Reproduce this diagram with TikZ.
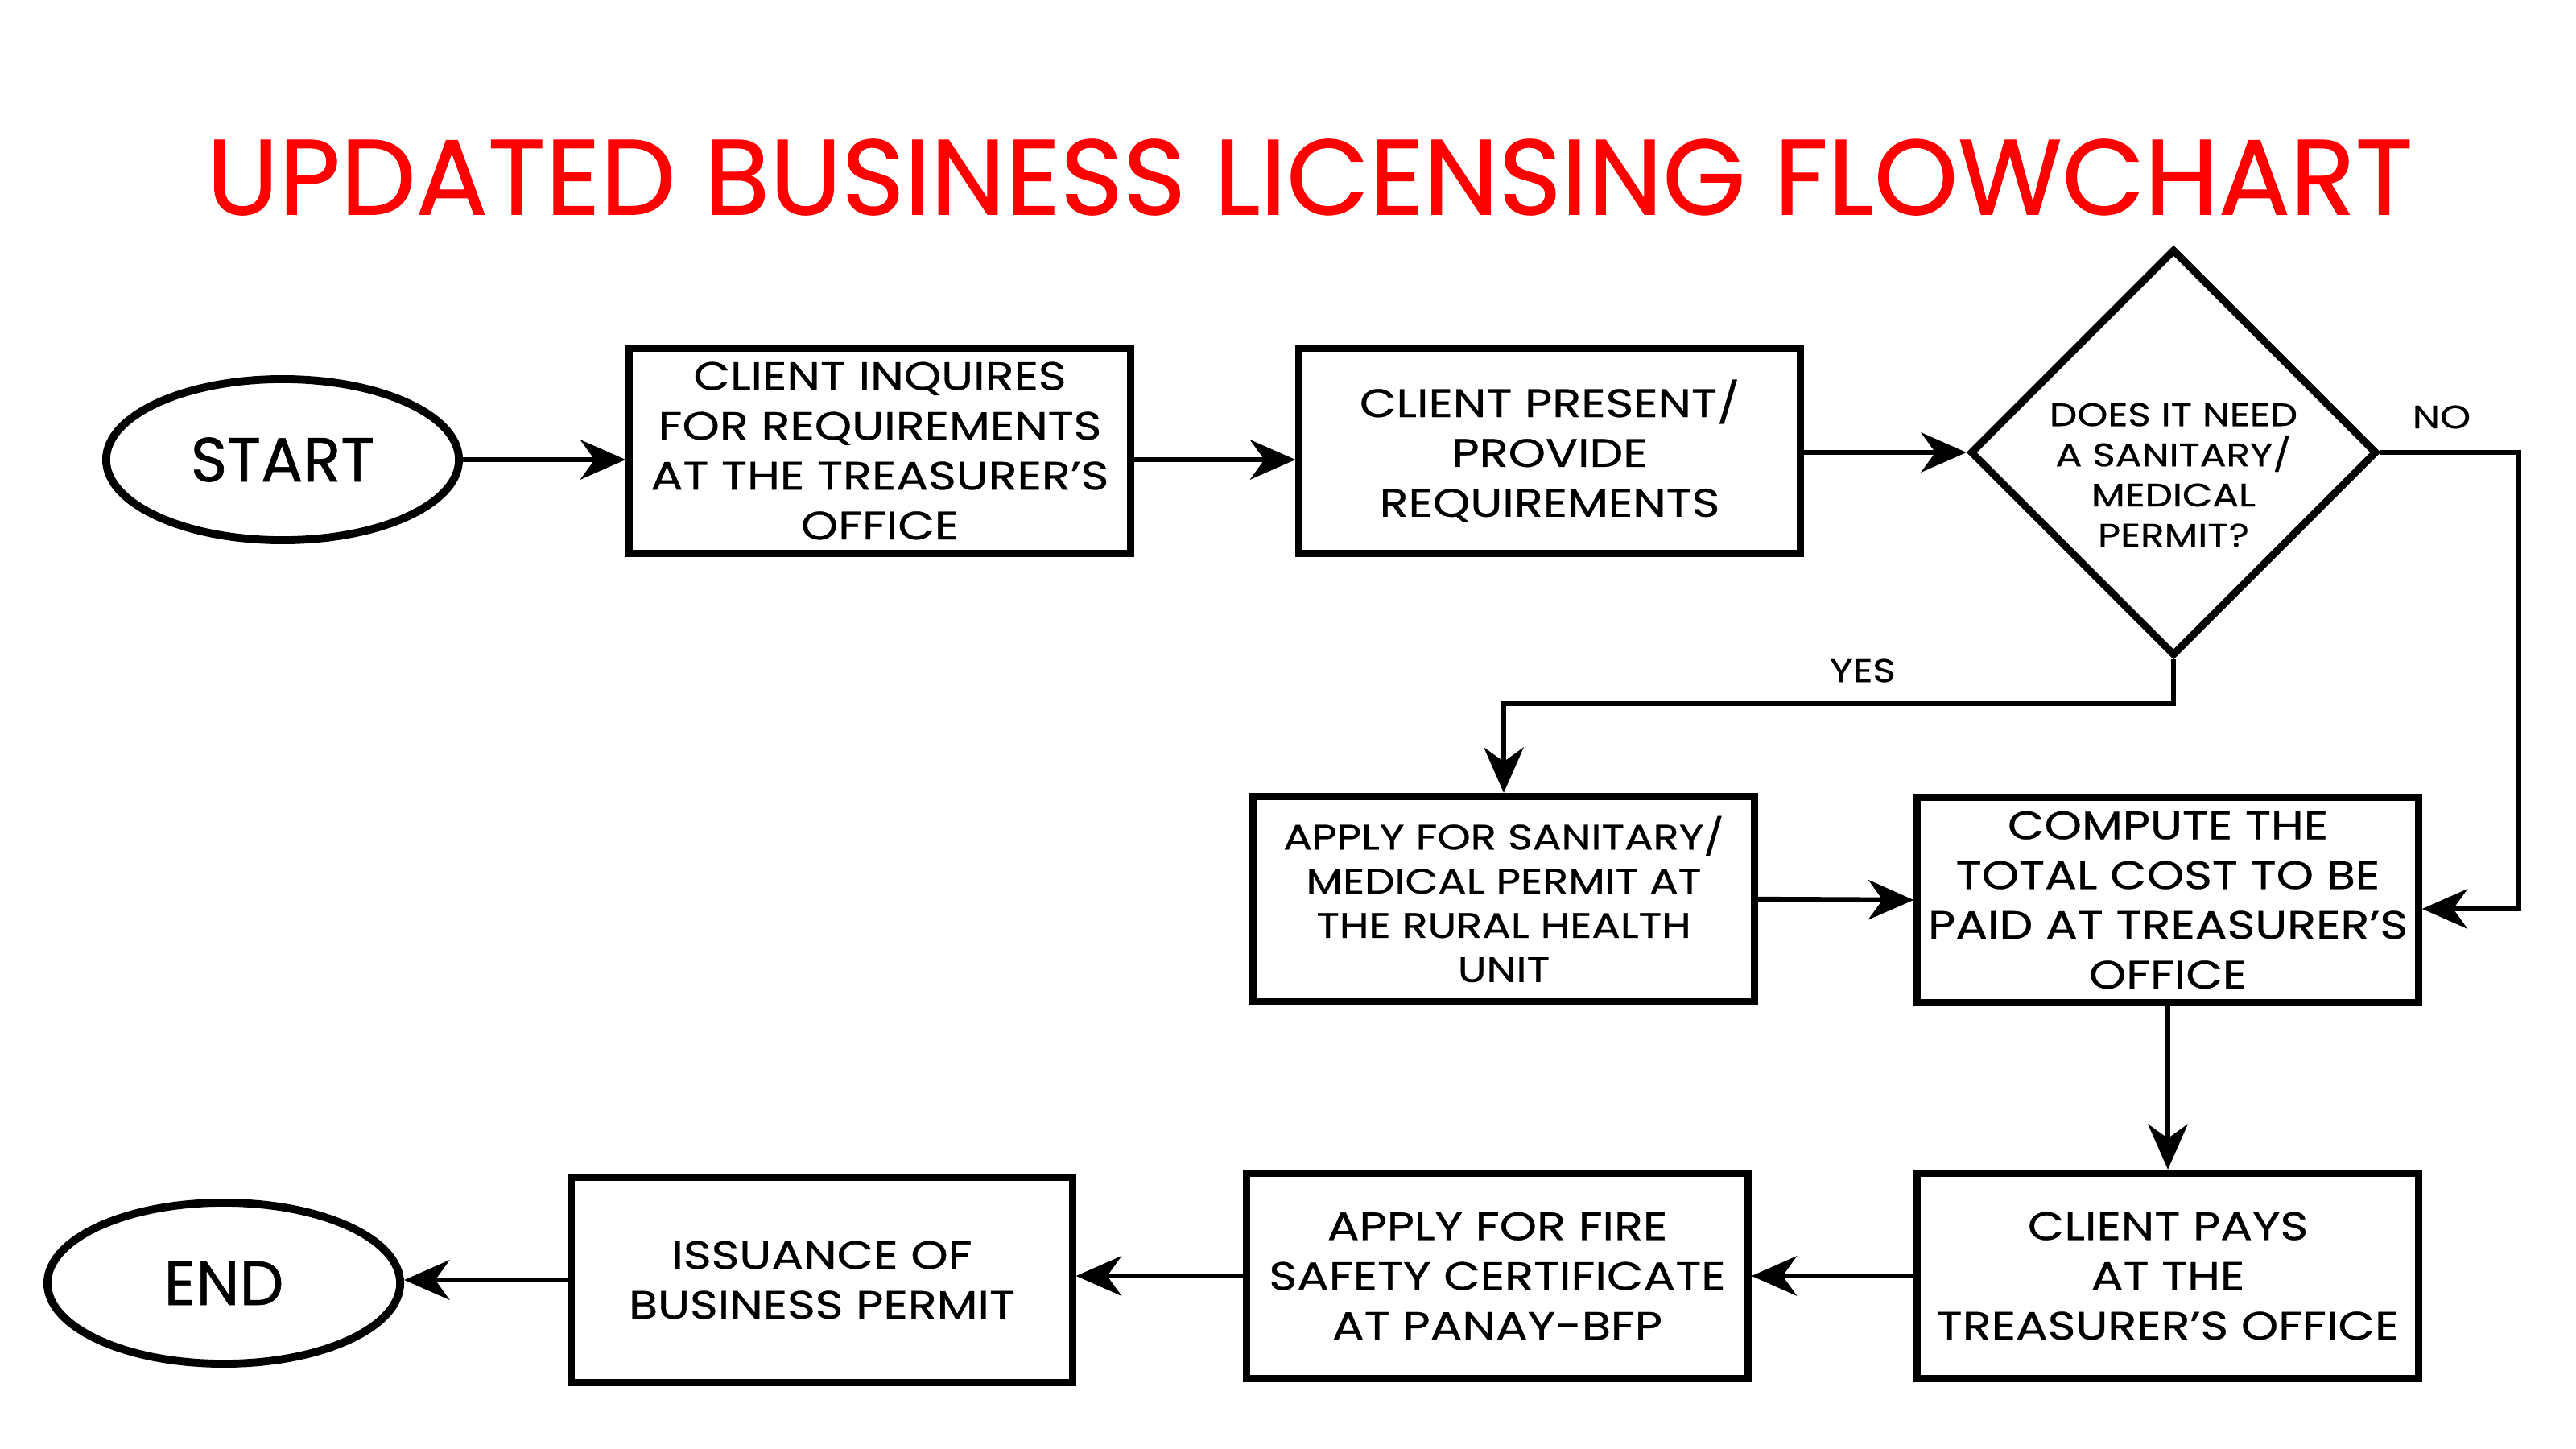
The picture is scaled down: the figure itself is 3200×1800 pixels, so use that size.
\documentclass[tikz,border=0pt]{standalone}
\usepackage{fontspec}
\setmainfont{Poppins}
\newfontfamily\boxfont{Poppins}[FakeStretch=1.2, FakeBold=0.6]
\newfontfamily\titlefont{Poppins}[FakeBold=0.8]
\usetikzlibrary{shapes.geometric,arrows.meta,calc}
\tikzset{
  box/.style={draw, line width=2.6pt, minimum width=6.22cm, minimum height=2.55cm, align=center, inner sep=0pt, font=\boxfont\fontsize{14}{17.6}\selectfont},
  term/.style={draw, ellipse, line width=2.8pt, minimum width=4.38cm, minimum height=2.0cm, inner sep=0pt, font=\titlefont\fontsize{22}{27}\selectfont},
  dia/.style={draw, diamond, line width=2.6pt, minimum width=5.05cm, minimum height=5.05cm, inner sep=0pt},
  diatext/.style={align=center, inner sep=0pt, font=\boxfont\fontsize{11.5}{14.2}\selectfont},
  arr/.style={line width=1.8pt, -{Stealth[length=16pt,width=14pt,inset=5pt]}},
  lbl/.style={font=\boxfont\fontsize{11.5}{14}\selectfont},
}
\begin{document}
\begin{tikzpicture}[x=0.01cm,y=-0.01cm]
\fill[white] (0,0) rectangle (3200,1800);
\useasboundingbox (0,0) rectangle (3200,1800);

\node[font=\titlefont\fontsize{37.7}{44}\selectfont, text={rgb,255:red,255;green,0;blue,0}] (title) at (1627,220) {UPDATED BUSINESS LICENSING FLOWCHART};

\node[term] (start) at (351,571) {START};
\node[box] (b1) at (1093,560) {CLIENT INQUIRES\\FOR REQUIREMENTS\\AT THE TREASURER’S\\OFFICE};
\node[box] (b2) at (1925,560) {CLIENT PRESENT/\\PROVIDE\\REQUIREMENTS};
\node[dia] (dia) at (2700,562) {};
\node[diatext] (diat) at (2700,590) {DOES IT NEED\\A SANITARY/\\MEDICAL\\PERMIT?};
\node[box, font=\boxfont\fontsize{12.5}{15.6}\selectfont] (app) at (1868,1117) {APPLY FOR SANITARY/\\MEDICAL PERMIT AT\\THE RURAL HEALTH\\UNIT};
\node[box] (cmp) at (2693,1118) {COMPUTE THE\\TOTAL COST TO BE\\PAID AT TREASURER’S\\OFFICE};
\node[box] (pay) at (2693,1585) {CLIENT PAYS\\AT THE\\TREASURER’S OFFICE};
\node[box] (fire) at (1860,1585) {APPLY FOR FIRE\\SAFETY CERTIFICATE\\AT PANAY-BFP};
\node[box] (iss) at (1021,1590) {ISSUANCE OF\\BUSINESS PERMIT};
\node[term] (end) at (278,1594) {END};

\node[lbl] (yes) at (2314,833) {YES};
\node[lbl] (no) at (3033,518) {NO};

\coordinate (noc) at (3129,1129);
\coordinate (yesc) at (2700,874);

\draw[arr] (start.east) -- (start.east -| b1.west);
\draw[arr] (b1.east |- start.east) -- (b2.west |- start.east);
\draw[arr] (b2.east |- dia.west) -- (dia.west);
\draw[arr] (dia.east) -| (noc) -- (cmp.east |- noc);
\draw[arr] (dia.south) -- (yesc) -| (app.north);
\draw[arr] (app.east) -- (cmp.west);
\draw[arr] (cmp.south) -- (pay.north);
\draw[arr] (pay.west) -- (fire.east);
\draw[arr] (fire.west) -- (iss.east |- fire.west);
\draw[arr] (iss.west) -- (end.east |- iss.west);
\end{tikzpicture}
\end{document}
